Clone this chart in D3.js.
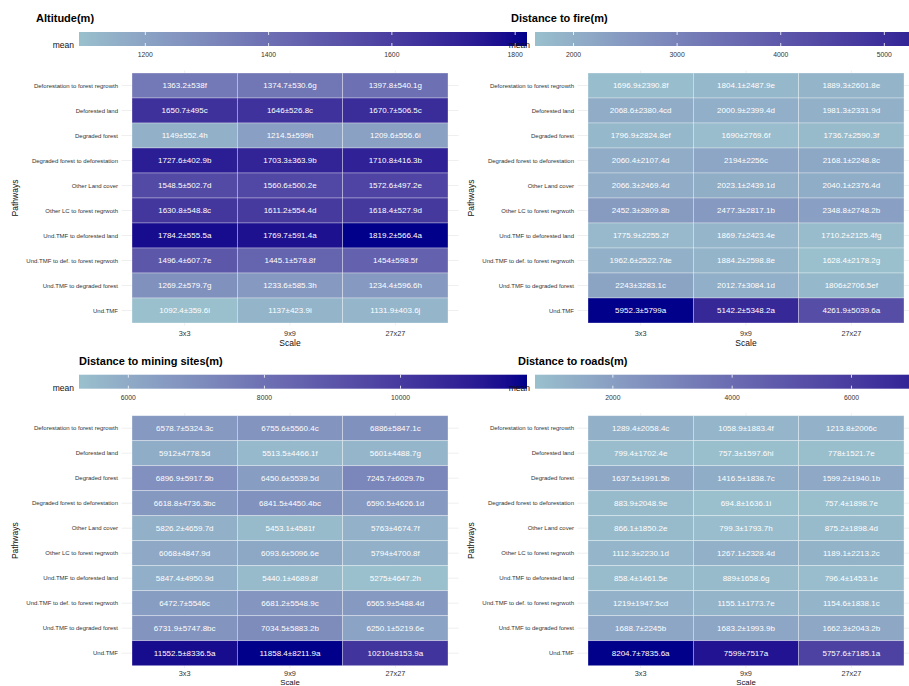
<!DOCTYPE html>
<html>
<head>
<meta charset="utf-8">
<script src="https://cdn.jsdelivr.net/npm/d3@7"></script>
<style>
  body { margin: 0; background: #fff; }
  svg { font-family: "Liberation Sans", Arial, sans-serif; display: block; }
</style>
</head>
<body>
<svg id="chart" width="909" height="686"></svg>
<script>
var pathways = ["Deforestation to forest regrowth", "Deforested land", "Degraded forest",
  "Degraded forest to deforestation", "Other Land cover", "Other LC to forest regrwoth",
  "Und.TMF to deforested land", "Und.TMF to def. to forest regrwoth",
  "Und.TMF to degraded forest", "Und.TMF"];
var scales = ["3x3", "9x9", "27x27"];

// rows follow pathways, columns follow scales
var altitudeMean = [[1363.2, 1374.7, 1397.8], [1650.7, 1646, 1670.7], [1149, 1214.5, 1209.6],
  [1727.6, 1703.3, 1710.8], [1548.5, 1560.6, 1572.6], [1630.8, 1611.2, 1618.4],
  [1784.2, 1769.7, 1819.2], [1496.4, 1445.1, 1454], [1269.2, 1233.6, 1234.4],
  [1092.4, 1137, 1131.9]];
var altitudeSd = [[538, 530.6, 540.1], [495, 526.8, 506.5], [552.4, 599, 556.6],
  [402.9, 363.9, 416.3], [502.7, 500.2, 497.2], [548.8, 554.4, 527.9],
  [555.5, 591.4, 566.4], [607.7, 578.8, 598.5], [579.7, 585.3, 596.6],
  [359.6, 423.9, 403.6]];
var altitudeLetter = [["f", "g", "g"], ["c", "c", "c"], ["h", "h", "i"], ["b", "b", "b"],
  ["d", "e", "e"], ["c", "d", "d"], ["a", "a", "a"], ["e", "f", "f"], ["g", "h", "h"],
  ["i", "i", "j"]];
var altitudeTicks = [1200, 1400, 1600, 1800];

var fireMean = [[1696.9, 1804.1, 1889.3], [2068.6, 2000.9, 1981.3], [1796.9, 1690, 1736.7],
  [2060.4, 2194, 2168.1], [2066.3, 2023.1, 2040.1], [2452.3, 2477.3, 2348.8],
  [1775.9, 1869.7, 1710.2], [1962.6, 1884.2, 1628.4], [2243, 2012.7, 1806],
  [5952.3, 5142.2, 4261.9]];
var fireSd = [[2390.8, 2487.9, 2601.8], [2380.4, 2399.4, 2331.9], [2824.8, 2769.6, 2590.3],
  [2107.4, 2256, 2248.8], [2469.4, 2439.1, 2376.4], [2809.8, 2817.1, 2748.2],
  [2255.2, 2423.4, 2125.4], [2522.7, 2598.8, 2178.2], [3283.1, 3084.1, 2706.5],
  [5799, 5348.2, 5039.6]];
var fireLetter = [["f", "e", "e"], ["cd", "d", "d"], ["ef", "f", "f"], ["d", "c", "c"],
  ["d", "d", "d"], ["b", "b", "b"], ["f", "e", "fg"], ["de", "e", "g"], ["c", "d", "ef"],
  ["a", "a", "a"]];
var fireTicks = [2000, 3000, 4000, 5000];

var miningMean = [[6578.7, 6755.6, 6886], [5912, 5513.5, 5601], [6896.9, 6450.6, 7245.7],
  [6618.8, 6841.5, 6590.5], [5826.2, 5453.1, 5763], [6068, 6093.6, 5794],
  [5847.4, 5440.1, 5275], [6472.7, 6681.2, 6565.9], [6731.9, 7034.5, 6250.1],
  [11552.5, 11858.4, 10210]];
var miningSd = [[5324.3, 5560.4, 5847.1], [4778.5, 4466.1, 4488.7], [5917.5, 5539.5, 6029.7],
  [4736.3, 4450.4, 4626.1], [4659.7, 4581, 4674.7], [4847.9, 5096.6, 4700.8],
  [4950.9, 4689.8, 4647.2], [5546, 5548.9, 5488.4], [5747.8, 5883.2, 5219.6],
  [8336.5, 8211.9, 8153.9]];
var miningLetter = [["c", "c", "c"], ["d", "f", "g"], ["b", "d", "b"], ["bc", "bc", "d"],
  ["d", "f", "f"], ["d", "e", "f"], ["d", "f", "h"], ["c", "c", "d"], ["bc", "b", "e"],
  ["a", "a", "a"]];
var miningTicks = [6000, 8000, 10000];

var roadsMean = [[1289.4, 1058.9, 1213.8], [799.4, 757.3, 778], [1637.5, 1416.5, 1599.2],
  [883.9, 694.8, 757.4], [866.1, 799.3, 875.2], [1112.3, 1267.1, 1189.1],
  [858.4, 889, 796.4], [1219, 1155.1, 1154.6], [1688.7, 1683.2, 1662.3],
  [8204.7, 7599, 5757.6]];
var roadsSd = [[2058.4, 1883.4, 2006], [1702.4, 1597.6, 1521.7], [1991.5, 1838.7, 1940.1],
  [2048.9, 1636.1, 1898.7], [1850.2, 1793.7, 1898.4], [2230.1, 2328.4, 2213.2],
  [1461.5, 1658.6, 1453.1], [1947.5, 1773.7, 1838.1], [2245, 1993.9, 2043.2],
  [7835.6, 7517, 7185.1]];
var roadsLetter = [["c", "f", "c"], ["e", "hi", "e"], ["b", "c", "b"], ["e", "i", "e"],
  ["e", "h", "d"], ["d", "d", "c"], ["e", "g", "e"], ["cd", "e", "c"], ["b", "b", "b"],
  ["a", "a", "a"]];
var roadsTicks = [2000, 4000, 6000];

var panels = [
  {id: "alt", title: "Altitude(m)", mean: altitudeMean, sd: altitudeSd, letter: altitudeLetter, ticks: altitudeTicks, dx: 0, dy: 0, titleX: 36},
  {id: "fire", title: "Distance to fire(m)", mean: fireMean, sd: fireSd, letter: fireLetter, ticks: fireTicks, dx: 456, dy: 0, titleX: 511},
  {id: "mine", title: "Distance to mining sites(m)", mean: miningMean, sd: miningSd, letter: miningLetter, ticks: miningTicks, dx: 0, dy: 342.7, titleX: 79},
  {id: "road", title: "Distance to roads(m)", mean: roadsMean, sd: roadsSd, letter: roadsLetter, ticks: roadsTicks, dx: 456, dy: 342.7, titleX: 518}
];

var svg = d3.select("#chart");
var defs = svg.append("defs");
var low = "#9AC0CD", high = "#00008B";

// tiles area, relative to panel offset
var tileX = 132, tileY = 73, tileW = 316, tileH = 250;
var barX = 79, barY = 32, barW = 448, barH = 14;

panels.forEach(function(p) {
  var g = svg.append("g").attr("transform", "translate(" + p.dx + "," + p.dy + ")");
  var all = d3.merge(p.mean);
  var ext = d3.extent(all);
  var color = d3.scaleLinear().domain(ext).range([low, high]).interpolate(d3.interpolateLab);
  var bottomRow = p.dy > 0;

  var x = d3.scaleBand().domain(scales).range([tileX, tileX + tileW]);
  var y = d3.scaleBand().domain(pathways).range([tileY, tileY + tileH]);

  // grid
  var grid = g.append("g").attr("stroke", "#ebebeb").attr("stroke-width", 0.8);
  grid.selectAll(".h").data(pathways).enter().append("line")
    .attr("x1", tileX - x.bandwidth() * 0.1).attr("x2", tileX + tileW + x.bandwidth() * 0.1)
    .attr("y1", function(d) { return y(d) + y.bandwidth() / 2; })
    .attr("y2", function(d) { return y(d) + y.bandwidth() / 2; });
  grid.selectAll(".v").data(scales).enter().append("line")
    .attr("y1", tileY - y.bandwidth() * 0.1).attr("y2", tileY + tileH + y.bandwidth() * 0.1)
    .attr("x1", function(d) { return x(d) + x.bandwidth() / 2; })
    .attr("x2", function(d) { return x(d) + x.bandwidth() / 2; });

  var cells = [];
  pathways.forEach(function(pw, i) {
    scales.forEach(function(s, j) {
      cells.push({pw: pw, s: s, m: p.mean[i][j], sd: p.sd[i][j], l: p.letter[i][j]});
    });
  });

  g.selectAll("rect.tile").data(cells).enter().append("rect")
    .attr("class", "tile")
    .attr("x", function(d) { return x(d.s); })
    .attr("y", function(d) { return y(d.pw); })
    .attr("width", x.bandwidth()).attr("height", y.bandwidth())
    .attr("fill", function(d) { return color(d.m); })
    .attr("stroke", "rgba(255,255,255,0.45)").attr("stroke-width", 0.7);

  g.selectAll("text.cell").data(cells).enter().append("text")
    .attr("class", "cell")
    .attr("x", function(d) { return x(d.s) + x.bandwidth() / 2; })
    .attr("y", function(d) { return y(d.pw) + y.bandwidth() / 2; })
    .attr("dy", "0.35em").attr("text-anchor", "middle")
    .attr("fill", "#fff").attr("font-size", 8)
    .text(function(d) { return d.m + "\u00b1" + d.sd + d.l; });

  // y labels
  g.selectAll("text.ylab").data(pathways).enter().append("text")
    .attr("x", 118).attr("y", function(d) { return y(d) + y.bandwidth() / 2; })
    .attr("dy", "0.35em").attr("text-anchor", "end")
    .attr("font-size", 6).attr("fill", "#333").text(function(d) { return d; });

  // x labels (bottom row squeezed a bit so "Scale" stays on the page)
  g.selectAll("text.xlab").data(scales).enter().append("text")
    .attr("x", function(d) { return x(d) + x.bandwidth() / 2; })
    .attr("y", tileY + tileH + (bottomRow ? 10.5 : 13)).attr("text-anchor", "middle")
    .attr("font-size", 7.3).attr("fill", "#333").text(function(d) { return d; });

  g.append("text").attr("x", tileX + tileW / 2)
    .attr("y", bottomRow ? 685.5 - p.dy : tileY + tileH + 23)
    .attr("text-anchor", "middle").attr("font-size", bottomRow ? 7.8 : 8.5)
    .attr("fill", "#111").text("Scale");

  g.append("text").attr("transform", "translate(18," + (tileY + tileH / 2) + ") rotate(-90)")
    .attr("text-anchor", "middle").attr("font-size", 8.5).attr("fill", "#111").text("Pathways");

  // title
  g.append("text").attr("x", p.titleX - p.dx).attr("y", 22)
    .attr("font-size", 11).attr("font-weight", "bold").attr("fill", "#000").text(p.title);

  // legend colorbar
  var grad = defs.append("linearGradient").attr("id", "grad-" + p.id)
    .attr("x1", "0%").attr("x2", "100%").attr("y1", "0%").attr("y2", "0%");
  d3.range(0, 1.0001, 0.05).forEach(function(t) {
    grad.append("stop").attr("offset", (t * 100) + "%")
      .attr("stop-color", color(ext[0] + t * (ext[1] - ext[0])));
  });
  var lx = d3.scaleLinear().domain(ext).range([barX, barX + barW]);
  g.append("rect").attr("x", barX).attr("y", barY).attr("width", barW).attr("height", barH)
    .attr("fill", "url(#grad-" + p.id + ")");
  var tk = g.append("g");
  tk.selectAll("line.t1").data(p.ticks).enter().append("line")
    .attr("x1", lx).attr("x2", lx).attr("y1", barY).attr("y2", barY + 3)
    .attr("stroke", "#fff").attr("stroke-width", 0.8);
  tk.selectAll("line.t2").data(p.ticks).enter().append("line")
    .attr("x1", lx).attr("x2", lx).attr("y1", barY + barH - 3).attr("y2", barY + barH)
    .attr("stroke", "#fff").attr("stroke-width", 0.8);
  tk.selectAll("text").data(p.ticks).enter().append("text")
    .attr("x", lx).attr("y", barY + barH + 11).attr("text-anchor", "middle")
    .attr("font-size", 6.8).attr("fill", "#333").text(function(d) { return d; });
  g.append("text").attr("x", barX - 5).attr("y", barY + barH + 2).attr("text-anchor", "end")
    .attr("font-size", 8.5).attr("fill", "#111").text("mean");
});
</script>
</body>
</html>
